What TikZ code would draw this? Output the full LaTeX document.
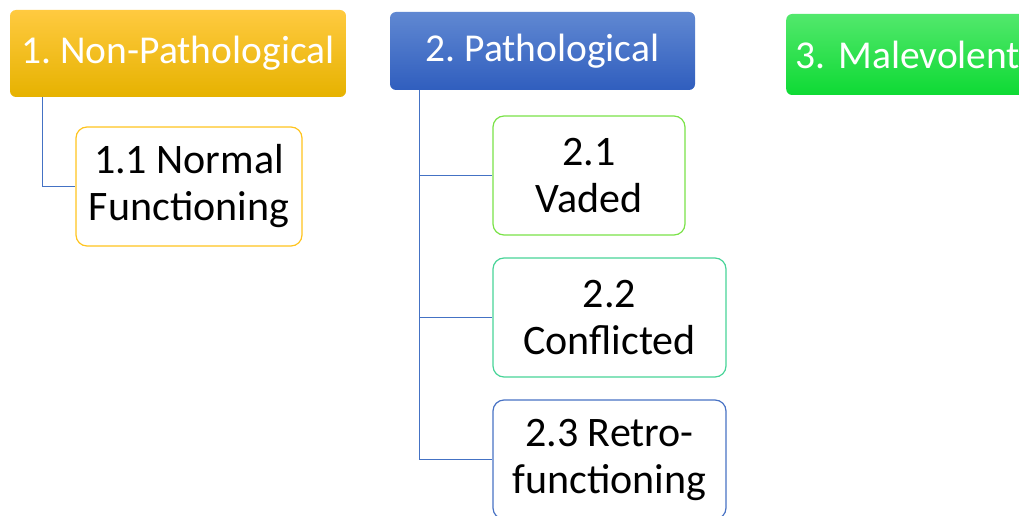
\documentclass[tikz,border=0pt]{standalone}
\usepackage{fontspec}
\setmainfont{Carlito}
\frenchspacing

\definecolor{orgtop}{RGB}{255,202,64}
\definecolor{orgbot}{RGB}{230,178,0}
\definecolor{bluetop}{RGB}{96,136,210}
\definecolor{bluebot}{RGB}{48,94,190}
\definecolor{grntop}{RGB}{82,232,108}
\definecolor{grnbot}{RGB}{14,218,52}
\definecolor{leaforange}{RGB}{255,196,30}
\definecolor{leafgreen}{RGB}{122,226,72}
\definecolor{leafteal}{RGB}{72,212,152}
\definecolor{leafblue}{RGB}{72,114,196}
\definecolor{linkblue}{RGB}{68,114,196}

\begin{document}
\begin{tikzpicture}[x=1pt, y=-1pt,
  header/.style={rounded corners=6pt, text=white, inner sep=0pt, align=center,
    font=\fontsize{39.5}{44}\selectfont},
  leaf/.style={rounded corners=11pt, draw, line width=1.2pt, fill=white,
    inner sep=0pt, align=center, minimum height=119pt,
    font=\fontsize{42}{47}\selectfont},
  link/.style={draw=linkblue, line width=1.3pt}]
  \useasboundingbox (0,0) rectangle (1019,516);
  \clip (0,0) rectangle (1019,516);
  %% ── Top level categories ───────────────────────────────────
  \node[header, top color=orgtop, bottom color=orgbot,
        minimum width=336pt, minimum height=87pt] (nonpath) at (178,53.5) {1. Non-Pathological};
  \node[header, top color=bluetop, bottom color=bluebot,
        minimum width=305pt, minimum height=78pt] (path) at (542.5,51) {2. Pathological};
  \node[header, top color=grntop, bottom color=grnbot, anchor=west,
        text width=230pt, align=left, inner xsep=9pt,
        minimum height=81pt] (malev) at (786,54.5) {3. Malevolent};
  %% ── Sub categories ─────────────────────────────────────────
  \node[leaf, draw=leaforange, minimum width=226pt] (nf) at (189,186.5) {1.1 Normal\\Functioning};
  \foreach \k/\xc/\yc/\w/\col/\txt in {
    1/589/175.5/192/leafgreen/{2.1\\Vaded},
    2/609.5/317.5/233/leafteal/{2.2\\Conflicted},
    3/609.5/459.5/233/leafblue/{2.3 Retro-\\functioning}}{
    \node[leaf, draw=\col, minimum width=\w pt] (sub\k) at (\xc,\yc) {\txt};
  }
  %% ── Tree links ─────────────────────────────────────────────
  \draw[link] ([xshift=33pt]nonpath.south west) |- (nf.west);
  \foreach \k in {1,2,3}{
    \draw[link] ([xshift=30pt]path.south west) |- (sub\k.west);
  }
\end{tikzpicture}
\end{document}
